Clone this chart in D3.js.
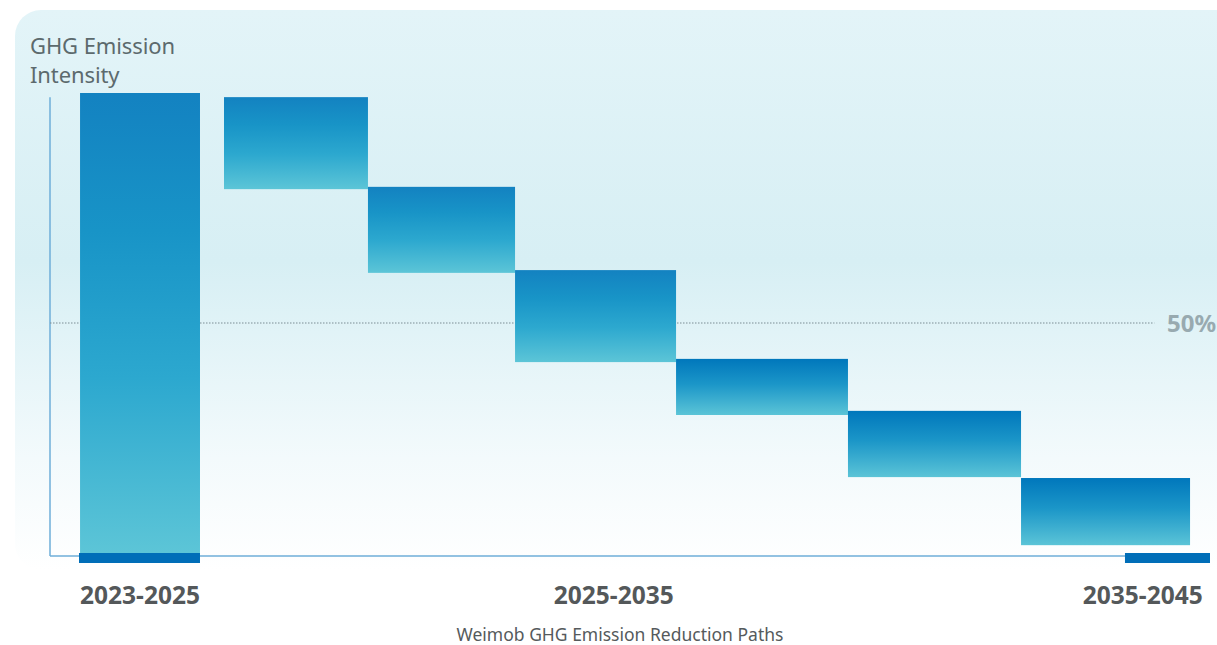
<!DOCTYPE html>
<html>
<head>
<meta charset="utf-8">
<script src="https://cdn.jsdelivr.net/npm/d3@7/dist/d3.min.js"></script>
<style>
html,body{margin:0;padding:0;background:#fff;}
svg{display:block;font-family:"Noto Sans","Open Sans",sans-serif;}
</style>
</head>
<body>
<svg id="chart" width="1217" height="645"></svg>
<script>
// ---- data ----
const periodLabels = ["2023-2025", "2025-2035", "2035-2045"];
const periodCenters = [7.76, 48.6, 94.2];          // position units
const baseBar = {x0: 2.59, x1: 12.93, top: 100};   // starting intensity
const stepX0 = [15.0, 27.41, 40.09, 53.97, 68.79, 83.71];
const stepX1 = [27.41, 40.09, 53.97, 68.79, 83.71, 98.28];
const stepTop = [99.1, 79.6, 61.5, 42.2, 30.9, 16.3];
const stepBottom = [79.1, 60.9, 41.5, 30.0, 16.5, 1.7];
const baseMarks = [{x0: 2.5, x1: 12.93}, {x0: 92.67, x1: 100}];
const referenceLevel = 50;
const referenceLabel = "50%";
const yTitle = ["GHG Emission", "Intensity"];
const caption = "Weimob GHG Emission Reduction Paths";

const svg = d3.select("#chart");
const defs = svg.append("defs");

const bg = defs.append("linearGradient").attr("id","bg").attr("x1",0).attr("y1",0).attr("x2",0).attr("y2",1);
bg.append("stop").attr("offset","0%").attr("stop-color","#e3f4f8");
bg.append("stop").attr("offset","45%").attr("stop-color","#d7eff4");
bg.append("stop").attr("offset","80%").attr("stop-color","#f3fafc");
bg.append("stop").attr("offset","100%").attr("stop-color","#ffffff");

const bar = defs.append("linearGradient").attr("id","bar").attr("x1",0).attr("y1",0).attr("x2",0).attr("y2",1);
bar.append("stop").attr("offset","0%").attr("stop-color","#1382c1");
bar.append("stop").attr("offset","30%").attr("stop-color","#1894c7");
bar.append("stop").attr("offset","62%").attr("stop-color","#2ca8cf");
bar.append("stop").attr("offset","100%").attr("stop-color","#5cc5d7");

const bar2 = defs.append("linearGradient").attr("id","bar2").attr("x1",0).attr("y1",0).attr("x2",0).attr("y2",1);
bar2.append("stop").attr("offset","0%").attr("stop-color","#0077bc");
bar2.append("stop").attr("offset","45%").attr("stop-color","#1b96c8");
bar2.append("stop").attr("offset","100%").attr("stop-color","#5bc4d7");

// background card
svg.append("rect").attr("x",15).attr("y",10).attr("width",1240).attr("height",560)
  .attr("rx",26).attr("fill","url(#bg)");

const x = d3.scaleLinear().domain([0,100]).range([50,1210]);
const y = d3.scaleLinear().domain([0,100]).range([553,93]);

// axes
svg.append("line").attr("x1",x(0)).attr("x2",x(0)).attr("y1",y(99.1)).attr("y2",y(0)+3)
  .attr("stroke","#6eaed8").attr("stroke-width",1.5);
svg.append("line").attr("x1",x(0)).attr("x2",x(95)).attr("y1",y(0)+3).attr("y2",y(0)+3)
  .attr("stroke","#6eaed8").attr("stroke-width",1.5);

// reference line
svg.append("line").attr("x1",x(0)).attr("x2",x(95.2)).attr("y1",y(referenceLevel)).attr("y2",y(referenceLevel))
  .attr("stroke","#7b8d94").attr("stroke-width",1).attr("stroke-dasharray","1.5,1.5");
svg.append("text").attr("x",x(96.3)).attr("y",y(referenceLevel)+8.5)
  .attr("font-size",24).attr("font-weight",700).attr("fill","#98aab0").text(referenceLabel);

// base bar
svg.append("rect").attr("x",x(baseBar.x0)).attr("width",x(baseBar.x1)-x(baseBar.x0))
  .attr("y",y(baseBar.top)).attr("height",y(0)-y(baseBar.top)).attr("fill","url(#bar)");

// step bars
svg.selectAll("rect.step").data(stepTop).enter().append("rect").attr("class","step")
  .attr("x",(d,i)=>x(stepX0[i]))
  .attr("width",(d,i)=>x(stepX1[i])-x(stepX0[i]))
  .attr("y",d=>y(d))
  .attr("height",(d,i)=>y(stepBottom[i])-y(d))
  .attr("fill",(d,i)=> i>=3 ? "url(#bar2)" : "url(#bar)");

// base marks
svg.selectAll("rect.mark").data(baseMarks).enter().append("rect").attr("class","mark")
  .attr("x",d=>x(d.x0)).attr("width",d=>x(d.x1)-x(d.x0))
  .attr("y",y(0)).attr("height",10).attr("fill","#006eb8");

// y title
svg.selectAll("text.yt").data(yTitle).enter().append("text").attr("class","yt")
  .attr("x",30).attr("y",(d,i)=>54+i*29).attr("font-size",22).attr("fill","#5c6a6d")
  .attr("letter-spacing",-0.1).text(d=>d);

// period labels
svg.selectAll("text.pl").data(periodLabels).enter().append("text").attr("class","pl")
  .attr("x",(d,i)=>x(periodCenters[i])).attr("y",604).attr("text-anchor","middle")
  .attr("font-size",24.5).attr("font-weight",700).attr("fill","#54585a").text(d=>d);

// caption
svg.append("text").attr("x",620).attr("y",640.5).attr("text-anchor","middle")
  .attr("font-size",17.5).attr("fill","#555a5c").text(caption);
</script>
</body>
</html>
